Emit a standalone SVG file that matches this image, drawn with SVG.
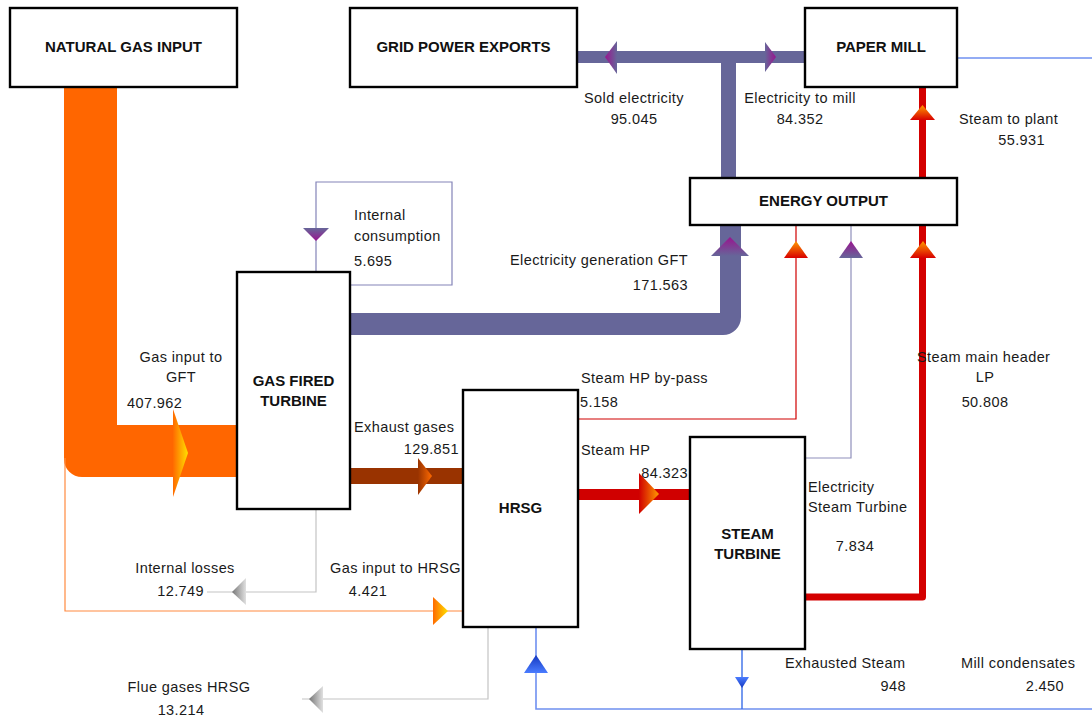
<svg xmlns="http://www.w3.org/2000/svg" width="1092" height="718" viewBox="0 0 1092 718">
  <defs>
    <style>
      .box { fill: #ffffff; stroke: #000000; stroke-width: 2.4; }
      .title { font-family: "Liberation Sans", Arial, sans-serif; font-size: 15px; font-weight: bold; fill: #111111; text-anchor: middle; }
      .lbl { font-family: "Liberation Sans", Arial, sans-serif; font-size: 14.5px; fill: #1a1a1a; letter-spacing: 0.4px; }
      .mid { text-anchor: middle; }
      .end { text-anchor: end; }
      .thin { fill: none; stroke-width: 1.2; }
    </style>
    <!-- arrowhead fills: base colour to tip colour -->
    <linearGradient id="gGas" x1="0" y1="0" x2="1" y2="0">
      <stop offset="0" stop-color="#ff6a00"/>
      <stop offset="1" stop-color="#ffe000"/>
    </linearGradient>
    <linearGradient id="gExh" x1="0" y1="0" x2="1" y2="0">
      <stop offset="0" stop-color="#993300"/>
      <stop offset="1" stop-color="#ff6a00"/>
    </linearGradient>
    <linearGradient id="gHP" x1="0" y1="0" x2="1" y2="0">
      <stop offset="0" stop-color="#d00000"/>
      <stop offset="1" stop-color="#ff9a00"/>
    </linearGradient>
    <linearGradient id="gSteamUp" x1="0" y1="1" x2="0" y2="0">
      <stop offset="0" stop-color="#d80000"/>
      <stop offset="1" stop-color="#ff9a00"/>
    </linearGradient>
    <linearGradient id="gPurpUp" x1="0" y1="1" x2="0" y2="0">
      <stop offset="0" stop-color="#666699"/>
      <stop offset="1" stop-color="#99148f"/>
    </linearGradient>
    <linearGradient id="gPurpDown" x1="0" y1="0" x2="0" y2="1">
      <stop offset="0" stop-color="#666699"/>
      <stop offset="1" stop-color="#99148f"/>
    </linearGradient>
    <linearGradient id="gPurpLeft" x1="1" y1="0" x2="0" y2="0">
      <stop offset="0" stop-color="#666699"/>
      <stop offset="1" stop-color="#99148f"/>
    </linearGradient>
    <linearGradient id="gPurpRight" x1="0" y1="0" x2="1" y2="0">
      <stop offset="0" stop-color="#666699"/>
      <stop offset="1" stop-color="#99148f"/>
    </linearGradient>
    <linearGradient id="gGreyLeft" x1="1" y1="0" x2="0" y2="0">
      <stop offset="0" stop-color="#e0e0e0"/>
      <stop offset="1" stop-color="#777777"/>
    </linearGradient>
    <linearGradient id="gBlueUp" x1="0" y1="1" x2="0" y2="0">
      <stop offset="0" stop-color="#4a7cff"/>
      <stop offset="1" stop-color="#1438c0"/>
    </linearGradient>
    <linearGradient id="gBlueDown" x1="0" y1="0" x2="0" y2="1">
      <stop offset="0" stop-color="#4a7cff"/>
      <stop offset="1" stop-color="#1438c0"/>
    </linearGradient>
  </defs>

  <rect width="1092" height="718" fill="#ffffff"/>

  <g id="connectors">
    <!-- natural gas to gas fired turbine -->
    <path d="M64,87 H117 V425 H237 V477 H82 A18,18 0 0 1 64,459 Z" fill="#ff6600"/>
    <polygon points="173,409 188,453 173,497" fill="url(#gGas)"/>
    <!-- gas to HRSG -->
    <path class="thin" d="M65,458 V611 H463" stroke="#ff8a40"/>
    <polygon points="433,597 448,611 433,625" fill="url(#gGas)"/>

    <!-- electricity generation GFT -->
    <path d="M350,313 H720 V226 H741 V317 A18,18 0 0 1 723,335 H350 Z" fill="#666699"/>
    <polygon points="711,256 730,237 749,256" fill="url(#gPurpUp)"/>

    <!-- sold electricity / electricity to mill -->
    <rect x="721" y="57" width="15" height="121" fill="#666699"/>
    <rect x="577" y="51" width="228" height="12" fill="#666699"/>
    <polygon points="617,41 605,57 617,74" fill="url(#gPurpLeft)"/>
    <polygon points="765,42 776,57 765,72" fill="url(#gPurpRight)"/>

    <!-- internal consumption -->
    <path class="thin" d="M316,272 V182 H452 V285 H351" stroke="#8484b8"/>
    <polygon points="303,228 329,228 316,241" fill="url(#gPurpDown)"/>

    <!-- exhaust gases -->
    <rect x="350" y="468" width="113" height="16" fill="#993300"/>
    <polygon points="418,458 432,476 418,495" fill="url(#gExh)"/>

    <!-- steam HP -->
    <rect x="578" y="489" width="112" height="11" fill="#d00000"/>
    <polygon points="639,473 659,494 639,514" fill="url(#gHP)"/>

    <!-- steam HP by-pass -->
    <path class="thin" d="M578,419 H796 V226" stroke="#d00000"/>
    <polygon points="784,258 796,241 808,258" fill="url(#gSteamUp)"/>

    <!-- electricity steam turbine -->
    <path class="thin" d="M805,458 H851 V226" stroke="#9090bb" stroke-width="1.5"/>
    <polygon points="839,258 851,241 863,258" fill="url(#gPurpUp)"/>

    <!-- steam main header LP -->
    <path d="M805,597 H922.5 V226" fill="none" stroke="#d40000" stroke-width="7" stroke-linejoin="round"/>
    <polygon points="910,258 923,241 936,258" fill="url(#gSteamUp)"/>

    <!-- steam to plant -->
    <path d="M922.5,178 V87" fill="none" stroke="#d40000" stroke-width="7"/>
    <polygon points="910,120 922.5,105 935,120" fill="url(#gSteamUp)"/>

    <!-- internal losses -->
    <path class="thin" d="M316,509 V592 H207" stroke="#c4c4c4"/>
    <polygon points="246,578 232,592 246,605" fill="url(#gGreyLeft)"/>

    <!-- flue gases HRSG -->
    <path class="thin" d="M488,627 V699 H302" stroke="#c4c4c4"/>
    <polygon points="323,686 309,699 323,713" fill="url(#gGreyLeft)"/>

    <!-- condensate return -->
    <path d="M1092,709 H536 V627" fill="none" stroke="#6f90f0" stroke-width="1.6"/>
    <polygon points="524,673 536,655 548,673" fill="url(#gBlueUp)"/>
    <path d="M742,649 V709" fill="none" stroke="#3a6ee8" stroke-width="1.4"/>
    <polygon points="735,677 749,677 742,688" fill="url(#gBlueDown)"/>
    <path d="M957,58 H1092" fill="none" stroke="#6f90f0" stroke-width="1.3"/>
  </g>

  <g id="natural-gas-input">
    <rect class="box" x="10" y="8" width="227" height="79"/>
    <text class="title" x="123.5" y="52">NATURAL GAS INPUT</text>
  </g>
  <g id="grid-power-exports">
    <rect class="box" x="350" y="8" width="227" height="79"/>
    <text class="title" x="463.5" y="52">GRID POWER EXPORTS</text>
  </g>
  <g id="paper-mill">
    <rect class="box" x="805" y="8" width="152" height="79"/>
    <text class="title" x="881" y="52">PAPER MILL</text>
  </g>
  <g id="energy-output">
    <rect class="box" x="690" y="178" width="267" height="47"/>
    <text class="title" x="823.5" y="206">ENERGY OUTPUT</text>
  </g>
  <g id="gas-fired-turbine">
    <rect class="box" x="237" y="272" width="113" height="237"/>
    <text class="title" x="293.5" y="386">GAS FIRED</text>
    <text class="title" x="293.5" y="406">TURBINE</text>
  </g>
  <g id="hrsg">
    <rect class="box" x="463" y="390" width="115" height="237"/>
    <text class="title" x="520.5" y="513">HRSG</text>
  </g>
  <g id="steam-turbine">
    <rect class="box" x="690" y="437" width="115" height="212"/>
    <text class="title" x="747.5" y="539">STEAM</text>
    <text class="title" x="747.5" y="559">TURBINE</text>
  </g>

  <g id="labels">
    <text class="lbl mid" x="634" y="103">Sold electricity</text>
    <text class="lbl mid" x="634" y="124">95.045</text>
    <text class="lbl mid" x="800" y="103">Electricity to mill</text>
    <text class="lbl mid" x="800" y="124">84.352</text>
    <text class="lbl" x="959" y="124">Steam to plant</text>
    <text class="lbl end" x="1045" y="145">55.931</text>

    <text class="lbl" x="354" y="220">Internal</text>
    <text class="lbl" x="354" y="241">consumption</text>
    <text class="lbl" x="354" y="266">5.695</text>
    <text class="lbl end" x="688" y="265">Electricity generation GFT</text>
    <text class="lbl end" x="688" y="290">171.563</text>

    <text class="lbl mid" x="181" y="362">Gas input to</text>
    <text class="lbl mid" x="181" y="382">GFT</text>
    <text class="lbl" x="127" y="408">407.962</text>

    <text class="lbl" x="581" y="383">Steam HP by-pass</text>
    <text class="lbl" x="580" y="407">5.158</text>
    <text class="lbl" x="917" y="362">Steam main header</text>
    <text class="lbl mid" x="985" y="382">LP</text>
    <text class="lbl mid" x="985" y="407">50.808</text>

    <text class="lbl" x="354" y="432">Exhaust gases</text>
    <text class="lbl end" x="459" y="454">129.851</text>
    <text class="lbl" x="581" y="455">Steam HP</text>
    <text class="lbl end" x="688" y="478">84.323</text>

    <text class="lbl" x="808" y="492">Electricity</text>
    <text class="lbl" x="808" y="512">Steam Turbine</text>
    <text class="lbl mid" x="855" y="551">7.834</text>

    <text class="lbl mid" x="185" y="573">Internal losses</text>
    <text class="lbl end" x="204" y="596">12.749</text>
    <text class="lbl" x="330" y="573">Gas input to HRSG</text>
    <text class="lbl mid" x="368" y="596">4.421</text>

    <text class="lbl" x="785" y="668">Exhausted Steam</text>
    <text class="lbl end" x="906" y="691">948</text>
    <text class="lbl" x="961" y="668">Mill condensates</text>
    <text class="lbl end" x="1064" y="691">2.450</text>

    <text class="lbl mid" x="189" y="692">Flue gases HRSG</text>
    <text class="lbl mid" x="181" y="715">13.214</text>
  </g>
</svg>
